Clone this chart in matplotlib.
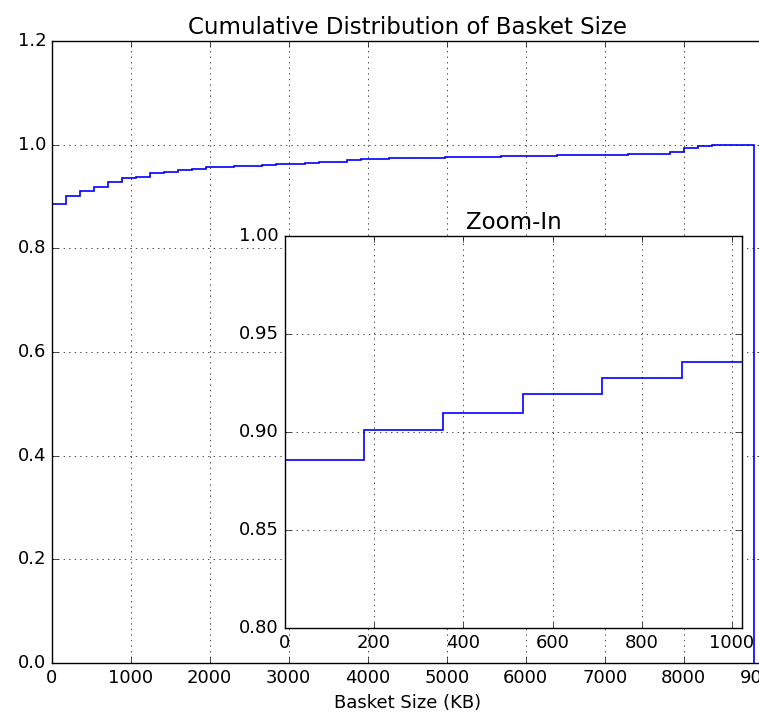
import numpy as np
import matplotlib
matplotlib.use('Agg')
from matplotlib import pyplot as plt

plt.style.use('classic')
plt.rcParams['xtick.labelsize'] = 13
plt.rcParams['ytick.labelsize'] = 13

# Cumulative fraction of baskets per histogram bin (50 bins up to ~8890 KB).
bin_max = 8890
n_bins = 50
cdf = [0.8857, 0.9010, 0.9098, 0.9192, 0.9277, 0.9354, 0.9380, 0.9450,
       0.9470, 0.9520, 0.9540, 0.9560, 0.9570, 0.9580, 0.9590, 0.9600,
       0.9625, 0.9630, 0.9650, 0.9660, 0.9670, 0.9705, 0.9720, 0.9725,
       0.9735, 0.9740, 0.9745, 0.9750, 0.9755, 0.9760, 0.9765, 0.9770,
       0.9775, 0.9780, 0.9785, 0.9790, 0.9795, 0.9800, 0.9805, 0.9810,
       0.9810, 0.9812, 0.9815, 0.9820, 0.9865, 0.9930, 0.9980, 0.9995,
       1.0000, 1.0000]
edges = np.linspace(0, bin_max, n_bins + 1)

fig = plt.figure(figsize=(7.59, 7.26), dpi=100, facecolor='white')

# main axes (right edge sits just past the figure border, like the original crop)
ax = fig.add_axes([51.7 / 759, 63 / 726, 711 / 759, 622 / 726])
ax.stairs(cdf, edges, baseline=0, color='b', linewidth=1.2)
ax.set_xlim(0, 9000)
ax.set_ylim(0, 1.2)
ax.set_xticks(np.arange(0, 9001, 1000))
ax.set_yticks(np.arange(0, 1.21, 0.2))
ax.grid(True)
ax.set_xlabel('Basket Size (KB)', fontsize=13)
ax.set_title('Cumulative Distribution of Basket Size', fontsize=16.5)

# zoom-in inset
axin = fig.add_axes([284.5 / 759, 98 / 726, 457.8 / 759, 392.3 / 726])
axin.stairs(cdf, edges, baseline=0, color='b', linewidth=1.2)
axin.set_xlim(0, 1024)
axin.set_ylim(0.8, 1.0)
axin.set_xticks(np.arange(0, 1001, 200))
axin.set_yticks([0.80, 0.85, 0.90, 0.95, 1.00])
axin.grid(True)
axin.set_title('Zoom-In', fontsize=16.5)

fig.savefig('out.png', dpi=100, facecolor='white')
